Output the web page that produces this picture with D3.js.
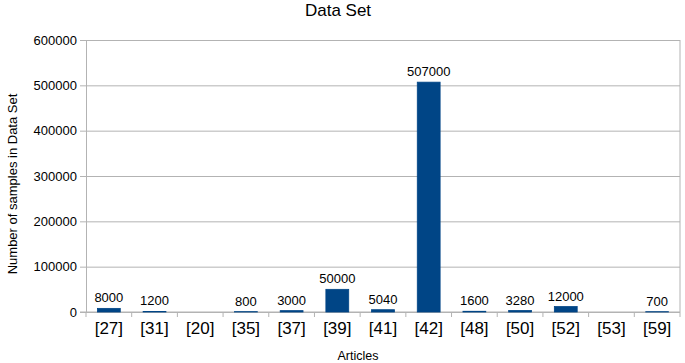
<!DOCTYPE html>
<html>
<head>
<meta charset="utf-8">
<script src="https://cdn.jsdelivr.net/npm/d3@7"></script>
<style>
  body { margin: 0; background: #fff; }
  text { font-family: "Liberation Sans", Arial, sans-serif; fill: #000; }
  .grid line { stroke: #b3b3b3; }
  .grid path { display: none; }
</style>
</head>
<body>
<div id="chart"></div>
<script>
// chart data
const articles = ["[27]", "[31]", "[20]", "[35]", "[37]", "[39]", "[41]", "[42]", "[48]", "[50]", "[52]", "[53]", "[59]"];
const samples = [8000, 1200, null, 800, 3000, 50000, 5040, 507000, 1600, 3280, 12000, null, 700];
const yTicks = [0, 100000, 200000, 300000, 400000, 500000, 600000];

let width = 685;
let height = 363;
let padLeft = 86, padRight = 680, padTop = 40, padBottom = 312;

let svg = d3.select("#chart").append("svg")
  .attr("width", width)
  .attr("height", height);

let xScale = d3.scaleBand()
  .domain(articles)
  .range([padLeft, padRight])
  .paddingInner(0.5)
  .paddingOuter(0.25);

let yScale = d3.scaleLinear()
  .domain([0, 600000])
  .range([padBottom, padTop]);

// gridlines
svg.append("g")
  .attr("class", "grid")
  .attr("transform", `translate(${padLeft},0)`)
  .call(d3.axisLeft(yScale).tickValues(yTicks).tickSize(-(padRight - padLeft)).tickFormat(""));

// right border
svg.append("line")
  .attr("x1", padRight).attr("x2", padRight)
  .attr("y1", padTop).attr("y2", padBottom)
  .style("stroke", "#b3b3b3");

// y axis
let yAxis = svg.append("g")
  .attr("transform", `translate(${padLeft},0)`)
  .call(d3.axisLeft(yScale).tickValues(yTicks).tickSize(6).tickPadding(3).tickFormat(d3.format("d")));
yAxis.select(".domain").style("stroke", "#b3b3b3");
yAxis.selectAll(".tick line").style("stroke", "#b3b3b3");
yAxis.selectAll("text").style("font-size", "13px");

// x axis with ticks between categories
let bounds = d3.range(articles.length + 1).map(i => padLeft + i * (padRight - padLeft) / articles.length);
svg.append("line")
  .attr("x1", padLeft - 6).attr("x2", padRight)
  .attr("y1", padBottom).attr("y2", padBottom)
  .style("stroke", "#b3b3b3");
svg.selectAll(".xtick")
  .data(bounds)
  .enter()
  .append("line")
  .attr("class", "xtick")
  .attr("x1", d => d).attr("x2", d => d)
  .attr("y1", padBottom).attr("y2", padBottom + 5)
  .style("stroke", "#b3b3b3");

svg.selectAll(".xlabel")
  .data(articles)
  .enter()
  .append("text")
  .attr("class", "xlabel")
  .attr("x", d => xScale(d) + xScale.bandwidth() / 2)
  .attr("y", padBottom + 22)
  .attr("text-anchor", "middle")
  .style("font-size", "17px")
  .text(d => d);

let data = articles.map((a, i) => ({ name: a, value: samples[i] })).filter(d => d.value != null);

svg.selectAll(".bar")
  .data(data)
  .enter()
  .append("rect")
  .attr("class", "bar")
  .attr("x", d => xScale(d.name))
  .attr("y", d => yScale(d.value))
  .attr("width", xScale.bandwidth())
  .attr("height", d => yScale(0) - yScale(d.value))
  .style("fill", "#004586")
  .style("stroke", "#004586")
  .style("stroke-width", 0.8);

svg.selectAll(".vlabel")
  .data(data)
  .enter()
  .append("text")
  .attr("class", "vlabel")
  .attr("x", d => xScale(d.name) + xScale.bandwidth() / 2)
  .attr("y", d => yScale(d.value) - 6)
  .attr("text-anchor", "middle")
  .style("font-size", "13px")
  .text(d => d.value);

// titles
svg.append("text")
  .attr("x", 338)
  .attr("y", 16)
  .attr("text-anchor", "middle")
  .style("font-size", "17px")
  .text("Data Set");

svg.append("text")
  .attr("x", 358)
  .attr("y", 360)
  .attr("text-anchor", "middle")
  .style("font-size", "12.5px")
  .text("Articles");

svg.append("text")
  .attr("transform", "translate(17,184) rotate(-90)")
  .attr("text-anchor", "middle")
  .style("font-size", "13px")
  .text("Number of samples in Data Set");
</script>
</body>
</html>
